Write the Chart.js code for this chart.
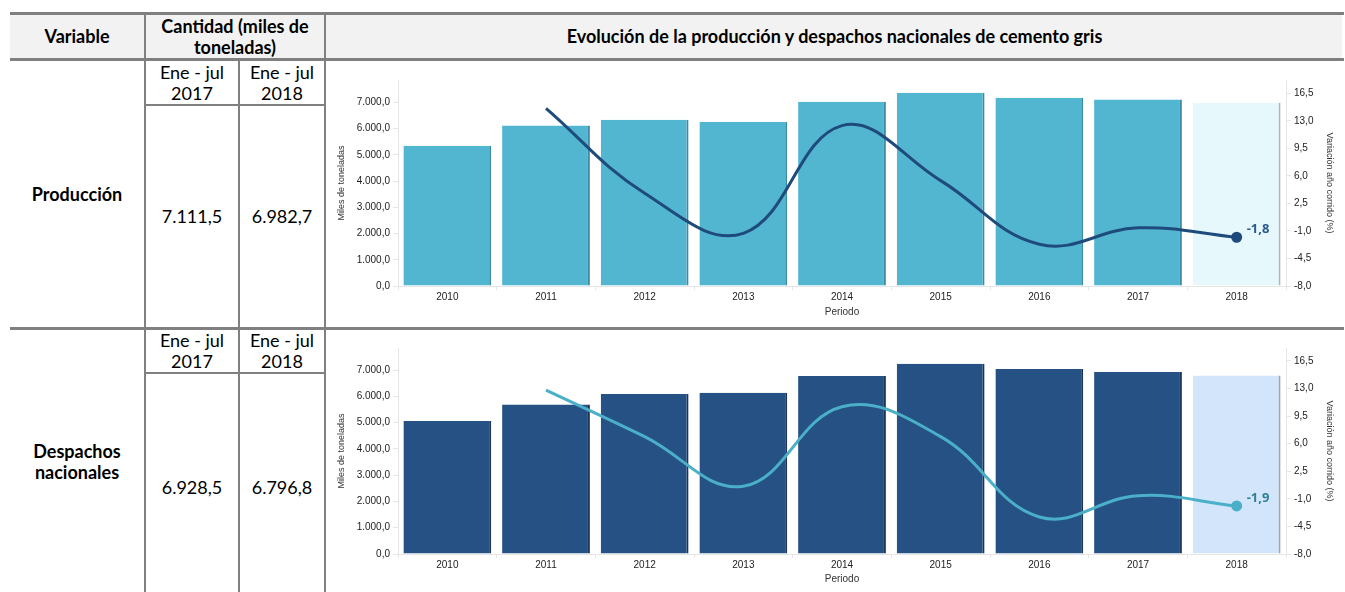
<!DOCTYPE html>
<html lang=es>

<head>
    <meta charset=UTF-8>
    <title>Cemento gris</title>
    <script src="https://cdn.jsdelivr.net/npm/chart.js"></script>
    <style>
        * {
            margin: 0;
            padding: 0;
        }

        body {
            width: 1345px;
            height: 592px;
            overflow: hidden;
            position: relative;
            background: #fff;
            font-family: "Lato", sans-serif;
            font-size: 18px;
            color: #000;
        }

        .abs {
            position: absolute;
        }

        .hline {
            position: absolute;
            background: #808080;
        }

        .vline {
            position: absolute;
            background: #808080;
            width: 2px;
        }

        .cell {
            position: absolute;
            display: flex;
            align-items: center;
            justify-content: center;
            text-align: center;
            line-height: 21px;
        }

        b {
            font-weight: 700;
        }

        .chart {
            position: absolute;
        }
    </style>
</head>

<body>
    <!-- cabecera -->
    <div class=abs style="left:10px;top:13px;width:1332px;height:47px;background:#f2f2f2"></div>
    <div class=hline style="left:10px;top:12px;width:1334px;height:3px"></div>
    <div class=hline style="left:10px;top:58px;width:1334px;height:3px"></div>
    <div class=hline style="left:145px;top:104px;width:181px;height:2px"></div>
    <div class=hline style="left:10px;top:327px;width:1334px;height:3px"></div>
    <div class=hline style="left:145px;top:372px;width:181px;height:2px"></div>

    <div class=vline style="left:144px;top:12px;height:600px"></div>
    <div class=vline style="left:238px;top:60px;height:540px"></div>
    <div class=vline style="left:324px;top:12px;height:600px"></div>

    <div class=cell style="left:10px;top:15px;width:134px;height:43px"><b>Variable</b></div>
    <div class=cell style="left:146px;top:15px;width:178px;height:43px"><b>Cantidad (miles de<br>toneladas)</b></div>
    <div class=cell style="left:326px;top:15px;width:1017px;height:43px"><b>Evolución de la producción y despachos nacionales de cemento gris</b></div>

    <!-- fila produccion -->
    <div class=cell style="left:10px;top:61px;width:134px;height:266px"><b>Producción</b></div>
    <div class=cell style="left:146px;top:61px;width:92px;height:43px">Ene - jul<br>2017</div>
    <div class=cell style="left:240px;top:61px;width:84px;height:43px">Ene - jul<br>2018</div>
    <div class=cell style="left:146px;top:106px;width:92px;height:221px">7.111,5</div>
    <div class=cell style="left:240px;top:106px;width:84px;height:221px">6.982,7</div>
    <div class=chart style="left:327px;top:61px;width:1015px;height:266px"><canvas id="prodChart"></canvas></div>

    <!-- fila despachos -->
    <div class=cell style="left:10px;top:330px;width:134px;height:264px"><b>Despachos<br>nacionales</b></div>
    <div class=cell style="left:146px;top:330px;width:92px;height:42px">Ene - jul<br>2017</div>
    <div class=cell style="left:240px;top:330px;width:84px;height:42px">Ene - jul<br>2018</div>
    <div class=cell style="left:146px;top:374px;width:92px;height:226px">6.928,5</div>
    <div class=cell style="left:240px;top:374px;width:84px;height:226px">6.796,8</div>
    <div class=chart style="left:327px;top:330px;width:1015px;height:262px"><canvas id="despChart"></canvas></div>

    <script>
        const years = ['2010', '2011', '2012', '2013', '2014', '2015', '2016', '2017', '2018'];
        const prodValues = [5342, 6113, 6340, 6253, 7024, 7366, 7170, 7111.5, 6982.7];
        const prodVariation = [null, 14.6, 3.8, -1.3, 12.4, 5.4, -2.7, -0.6, -1.8];
        const despValues = [5059, 5694, 6085, 6135, 6771, 7239, 7037, 6928.5, 6796.8];
        const despVariation = [null, 12.8, 6.9, 0.6, 10.7, 6.9, -3.3, -0.6, -1.9];
        const leftTicks = [0, 1000, 2000, 3000, 4000, 5000, 6000, 7000];
        const rightTicks = [-8, -4.5, -1, 2.5, 6, 9.5, 13, 16.5];

        function fmt(v) {
            const neg = v < 0;
            let [ent, dec] = Math.abs(v).toFixed(1).split('.');
            ent = ent.replace(/\B(?=(\d{3})+(?!\d))/g, '.');
            return (neg ? '-' : '') + ent + ',' + dec;
        }

        // etiqueta del ultimo punto de la linea
        const lastLabel = {
            id: 'lastLabel',
            afterDatasetsDraw(chart, args, opts) {
                const meta = chart.getDatasetMeta(1);
                const pt = meta.data[meta.data.length - 1];
                const v = chart.data.datasets[1].data[meta.data.length - 1];
                const ctx = chart.ctx;
                ctx.save();
                ctx.font = 'bold 13px "Open Sans", sans-serif';
                ctx.fillStyle = opts.color;
                ctx.textBaseline = 'middle';
                ctx.fillText(fmt(v), pt.x + 10, pt.y - 8);
                ctx.restore();
            }
        };

        function makeChart(id, values, variation, cfg) {
            const n = years.length;
            const font = { family: '"Liberation Sans", Arial, sans-serif', size: 10 };
            const titleFont = { family: '"Liberation Sans Narrow", "Liberation Sans", Arial, sans-serif', size: 9 };
            return new Chart(document.getElementById(id), {
                data: {
                    labels: years,
                    datasets: [{
                        type: 'bar',
                        data: values,
                        yAxisID: 'y',
                        order: 2,
                        backgroundColor: years.map((y, i) => i == n - 1 ? cfg.lastBar : cfg.bar),
                        borderColor: years.map((y, i) => i == n - 1 ? cfg.lastEdge : cfg.edge),
                        borderWidth: { right: 2, top: 0, left: 0, bottom: 0 },
                        borderSkipped: false,
                        categoryPercentage: 1,
                        barPercentage: 0.89
                    }, {
                        type: 'line',
                        data: variation,
                        yAxisID: 'y1',
                        order: 1,
                        borderColor: cfg.line,
                        backgroundColor: cfg.line,
                        borderWidth: 3,
                        tension: 0.4,
                        pointRadius: years.map((y, i) => i == n - 1 ? 4 : 0),
                        pointHoverRadius: 0
                    }]
                },
                options: {
                    responsive: true,
                    maintainAspectRatio: false,
                    animation: false,
                    layout: { padding: { top: cfg.top, left: 0, right: 0, bottom: 0 } },
                    plugins: {
                        legend: { display: false },
                        tooltip: { enabled: false },
                        lastLabel: { color: cfg.labelColor }
                    },
                    scales: {
                        x: {
                            grid: { drawOnChartArea: false, color: '#e6e6e6', tickLength: 4 },
                            border: { color: '#e6e6e6' },
                            ticks: { color: '#222', font, padding: 1, maxRotation: 0 },
                            title: {
                                display: true, text: 'Periodo', color: '#333',
                                font: { family: '"Liberation Sans", Arial, sans-serif', size: 10 },
                                padding: { top: 0, bottom: cfg.titlePad }
                            },
                            afterFit: s => { s.height = cfg.bottom; }
                        },
                        y: {
                            position: 'left',
                            min: 0,
                            max: cfg.leftMax,
                            afterBuildTicks: s => { s.ticks = leftTicks.map(v => ({ value: v })); },
                            grid: { drawOnChartArea: false, color: '#e6e6e6', tickLength: 5 },
                            border: { color: '#e6e6e6' },
                            ticks: { color: '#222', font, padding: 3, callback: v => fmt(v) },
                            title: { display: true, text: 'Miles de toneladas', color: '#333', font: titleFont, padding: { top: 9, bottom: 0 } },
                            afterFit: s => { s.width = 71; }
                        },
                        y1: {
                            position: 'right',
                            min: -8,
                            max: cfg.rightMax,
                            afterBuildTicks: s => { s.ticks = rightTicks.map(v => ({ value: v })); },
                            grid: { drawOnChartArea: false, color: '#e6e6e6', tickLength: 5 },
                            border: { color: '#e6e6e6' },
                            ticks: { color: '#222', font, padding: 3, callback: v => fmt(v) },
                            title: { display: true, text: 'Variación año corrido (%)', color: '#333', font: titleFont, padding: { top: 7, bottom: 0 } },
                            afterFit: s => { s.width = 56; }
                        }
                    }
                },
                plugins: [lastLabel]
            });
        }

        makeChart('prodChart', prodValues, prodVariation, {
            bar: '#52b6d1', edge: '#3d8ba1', lastBar: '#e7f8fc', lastEdge: '#aab5b9',
            line: '#1f4a7c', labelColor: '#2b5a8c',
            leftMax: 7850, rightMax: 18.2, top: 19, bottom: 41, titlePad: 9
        });

        makeChart('despChart', despValues, despVariation, {
            bar: '#265184', edge: '#1a3558', lastBar: '#d3e5fb', lastEdge: '#9aa5b1',
            line: '#4aafc8', labelColor: '#2f8097',
            leftMax: 7840, rightMax: 18.15, top: 18, bottom: 38, titlePad: 7
        });
    </script>
</body>

</html>
